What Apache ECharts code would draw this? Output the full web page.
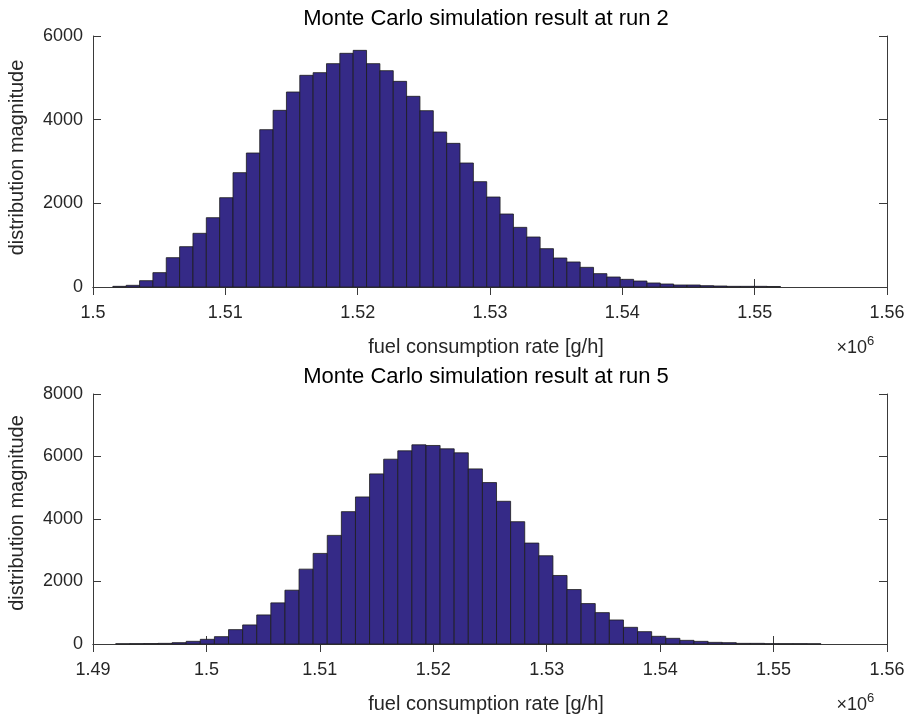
<!DOCTYPE html>
<html>
<head>
<meta charset="utf-8">
<title>Monte Carlo simulation results</title>
<script src="https://cdn.jsdelivr.net/npm/echarts@6/dist/echarts.min.js"></script>
<style>
  html, body { margin: 0; padding: 0; background: #fff; }
  #chart { width: 910px; height: 714px; }
</style>
</head>
<body>
<div id="chart"></div>
<script>
// Histogram counts (50 equal-width bins each), fuel consumption in g/h
const run2Counts = [
  16, 40, 151, 343, 701, 964, 1283, 1657, 2135, 2733,
  3203, 3761, 4223, 4661, 5060, 5124, 5339, 5586, 5657, 5339,
  5171, 4916, 4558, 4215, 3705, 3434, 2964, 2518, 2151, 1745,
  1426, 1195, 916, 693, 598, 470, 319, 239, 183, 143,
  96, 72, 48, 48, 32, 24, 16, 16, 16, 12
];
const run2BinStart = 1501500;
const run2BinWidth = 1009;

const run5Counts = [
  8, 12, 15, 21, 43, 86, 150, 235, 460, 610,
  930, 1316, 1722, 2396, 2899, 3476, 4236, 4706, 5444, 5914,
  6182, 6374, 6353, 6246, 6118, 5604, 5166, 4567, 3914, 3230,
  2824, 2193, 1743, 1294, 1004, 769, 534, 395, 246, 182,
  117, 85, 53, 43, 21, 21, 11, 11, 11, 8
];
const run5BinStart = 1492000;
const run5BinWidth = 1243.5;

// Axis ranges
const run2XRange = [1500000, 1560000];
const run5XRange = [1490000, 1560000];
const run2YRange = [0, 6000];
const run5YRange = [0, 8000];
const xTickStep = 10000;
const yTickStep = 2000;

const titles = ['Monte Carlo simulation result at run 2', 'Monte Carlo simulation result at run 5'];
const xLabel = 'fuel consumption rate [g/h]';
const yLabel = 'distribution magnitude';

const FONT = '"Liberation Sans", Arial, Helvetica, sans-serif';
const TEXT = '#262626';
const AXIS = '#3a3a3a';

function binsOf(counts, start, width) {
  return counts.map((c, i) => [start + i * width, start + (i + 1) * width, c]);
}

function renderBin(params, api) {
  const top = api.coord([api.value(0), api.value(2)]);
  const base = api.coord([api.value(1), 0]);
  return {
    type: 'rect',
    shape: { x: top[0], y: top[1], width: base[0] - top[0], height: base[1] - top[1] },
    style: { fill: '#352A87', stroke: '#1c1c1c', lineWidth: 0.8 }
  };
}

const fmtX = v => String(parseFloat((v / 1e6).toFixed(4)));
const fmtY = v => String(v);

function xAxes(gridIndex, range) {
  const common = {
    type: 'value', gridIndex, min: range[0], max: range[1], interval: xTickStep,
    splitLine: { show: false },
    axisLine: { show: true, lineStyle: { color: AXIS, width: 1 } },
    axisTick: { show: true, inside: true, length: 8, lineStyle: { color: AXIS, width: 1 } }
  };
  return [
    Object.assign({}, common, {
      position: 'bottom',
      axisLabel: { show: true, formatter: fmtX, color: TEXT, fontFamily: FONT, fontSize: 18, margin: 17 }
    }),
    Object.assign({}, common, { position: 'top', axisLabel: { show: false } })
  ];
}

function yAxes(gridIndex, range) {
  const common = {
    type: 'value', gridIndex, min: range[0], max: range[1], interval: yTickStep,
    splitLine: { show: false },
    axisLine: { show: true, lineStyle: { color: AXIS, width: 1 } },
    axisTick: { show: true, inside: true, length: 8, lineStyle: { color: AXIS, width: 1 } }
  };
  return [
    Object.assign({}, common, {
      position: 'left',
      axisLabel: { show: true, formatter: fmtY, color: TEXT, fontFamily: FONT, fontSize: 18, margin: 10 }
    }),
    Object.assign({}, common, { position: 'right', axisLabel: { show: false } })
  ];
}

const grids = [
  { left: 93, top: 36, width: 794, height: 251 },
  { left: 93, top: 394, width: 794, height: 250 }
];

function labelsFor(g, title, yCenterShift) {
  const cx = g.left + g.width / 2;
  const bottom = g.top + g.height;
  return [
    { type: 'text', x: cx - 4, y: g.top - 17.5,
      style: { text: title, fontFamily: FONT, fontSize: 22, fill: '#000', align: 'center', verticalAlign: 'middle' } },
    { type: 'text', x: cx - 4, y: bottom + 60,
      style: { text: xLabel, fontFamily: FONT, fontSize: 20, fill: TEXT, align: 'center', verticalAlign: 'middle' } },
    { type: 'text', x: 17, y: g.top + g.height / 2 + yCenterShift, rotation: Math.PI / 2,
      style: { text: yLabel, fontFamily: FONT, fontSize: 20, fill: TEXT, align: 'center', verticalAlign: 'middle' } },
    { type: 'text', x: 867, y: bottom + 61,
      style: { text: '\u00d710', fontFamily: FONT, fontSize: 18, fill: TEXT, align: 'right', verticalAlign: 'middle' } },
    { type: 'text', x: 867, y: bottom + 54,
      style: { text: '6', fontFamily: FONT, fontSize: 13, fill: TEXT, align: 'left', verticalAlign: 'middle' } }
  ];
}

const chart = echarts.init(document.getElementById('chart'), null, { renderer: 'canvas' });
chart.setOption({
  backgroundColor: '#ffffff',
  animation: false,
  grid: grids,
  xAxis: [].concat(xAxes(0, run2XRange), xAxes(1, run5XRange)),
  yAxis: [].concat(yAxes(0, run2YRange), yAxes(1, run5YRange)),
  series: [
    {
      type: 'custom', name: 'run 2', xAxisIndex: 0, yAxisIndex: 0,
      renderItem: renderBin, encode: { x: [0, 1], y: 2 },
      data: binsOf(run2Counts, run2BinStart, run2BinWidth)
    },
    {
      type: 'custom', name: 'run 5', xAxisIndex: 2, yAxisIndex: 2,
      renderItem: renderBin, encode: { x: [0, 1], y: 2 },
      data: binsOf(run5Counts, run5BinStart, run5BinWidth)
    }
  ],
  graphic: [].concat(labelsFor(grids[0], titles[0], -4), labelsFor(grids[1], titles[1], -6))
});
</script>
</body>
</html>
